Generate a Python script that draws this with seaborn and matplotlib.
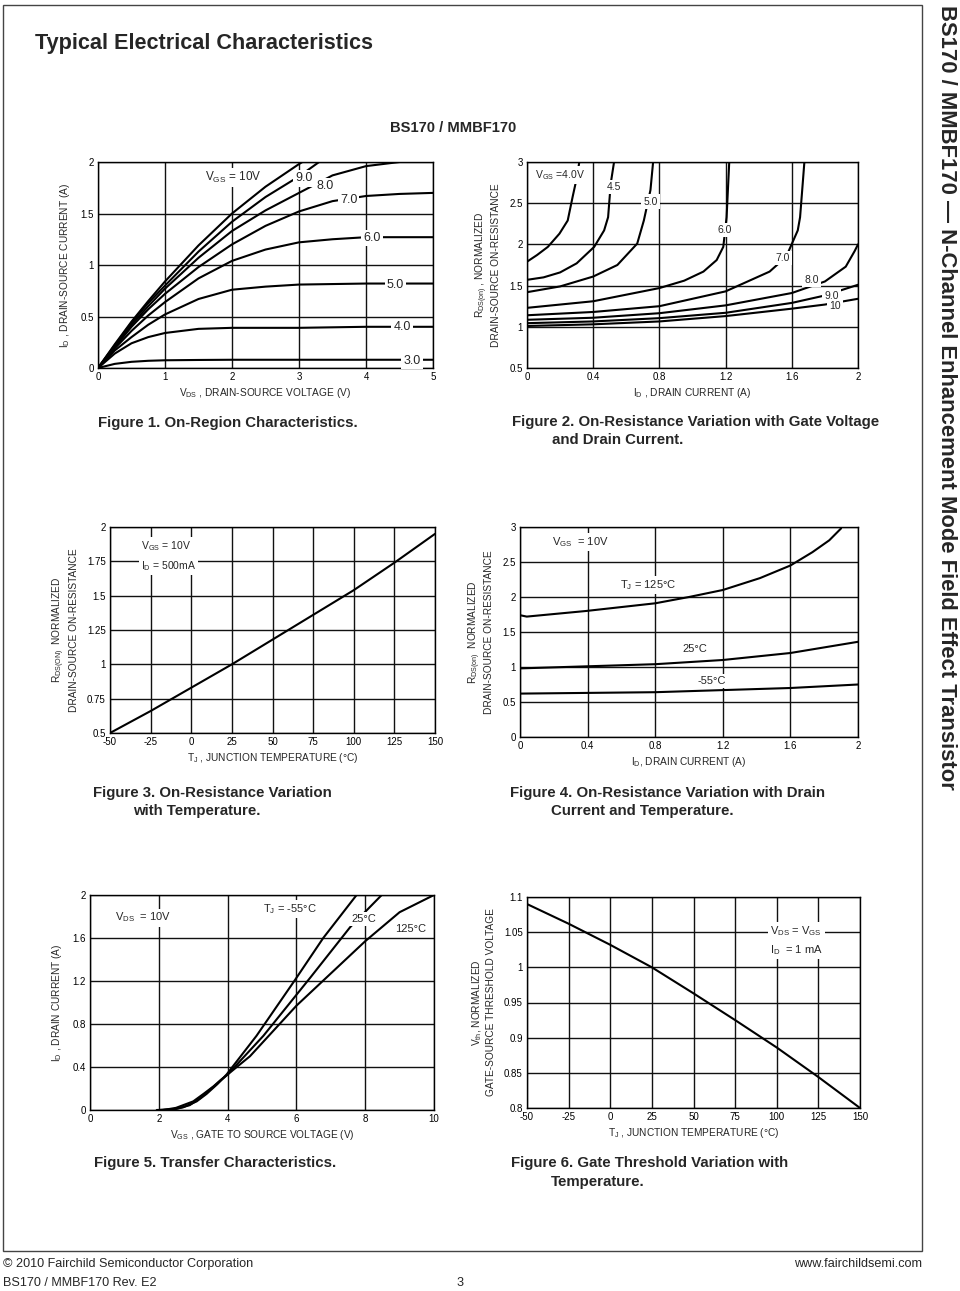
import numpy as np
import pandas as pd
import matplotlib
matplotlib.use("Agg")
import matplotlib.pyplot as plt
import seaborn as sns
from matplotlib.ticker import MultipleLocator, FuncFormatter
from matplotlib.patches import Rectangle

# -------------------------
# DATA
# -------------------------

# Figure 1: ID vs VDS for several VGS
vds_10 = [0, 0.25, 0.5, 0.75, 1, 1.5, 2, 2.5, 3, 3.05]
id_10 = [0, 0.23, 0.45, 0.65, 0.84, 1.19, 1.50, 1.76, 1.98, 2.0]
vds_9 = [0, 0.25, 0.5, 0.75, 1, 1.5, 2, 2.5, 3, 3.3]
id_9 = [0, 0.22, 0.44, 0.63, 0.80, 1.13, 1.42, 1.66, 1.86, 2.0]
vds_8 = [0, 0.25, 0.5, 0.75, 1, 1.5, 2, 2.5, 3, 3.5, 4, 4.5]
id_8 = [0, 0.21, 0.42, 0.60, 0.77, 1.07, 1.33, 1.53, 1.70, 1.87, 1.96, 2.0]
vds_grid = [0, 0.25, 0.5, 0.75, 1, 1.5, 2, 2.5, 3, 3.5, 4, 4.5, 5]
id_7 = [0, 0.20, 0.40, 0.57, 0.72, 0.98, 1.20, 1.38, 1.52, 1.62, 1.67, 1.69, 1.70]
id_6 = [0, 0.19, 0.36, 0.51, 0.64, 0.87, 1.04, 1.15, 1.22, 1.25, 1.27, 1.27, 1.27]
id_5 = [0, 0.17, 0.30, 0.42, 0.52, 0.67, 0.76, 0.79, 0.81, 0.815, 0.82, 0.82, 0.82]
id_4 = [0, 0.14, 0.24, 0.30, 0.34, 0.38, 0.39, 0.39, 0.39, 0.395, 0.40, 0.40, 0.40]
id_3 = [0, 0.04, 0.06, 0.07, 0.075, 0.078, 0.08, 0.08, 0.08, 0.08, 0.08, 0.08, 0.08]

# Figure 2: normalized RDS(on) vs ID for several VGS
f2_id_40 = [0, 0.06, 0.126, 0.196, 0.246, 0.276, 0.30, 0.316]
f2_r_40 = [1.79, 1.87, 1.97, 2.13, 2.29, 2.58, 2.80, 3.0]
f2_id_45 = [0, 0.1, 0.2, 0.3, 0.406, 0.466, 0.49, 0.506, 0.526]
f2_r_45 = [1.57, 1.60, 1.66, 1.77, 1.97, 2.17, 2.33, 2.74, 3.0]
f2_id_50 = [0, 0.2, 0.4, 0.546, 0.666, 0.706, 0.746, 0.762]
f2_r_50 = [1.42, 1.49, 1.61, 1.75, 2.01, 2.29, 2.66, 3.0]
f2_id_60 = [0, 0.4, 0.8, 0.95, 1.066, 1.146, 1.186, 1.206, 1.222]
f2_r_60 = [1.23, 1.31, 1.47, 1.56, 1.67, 1.81, 1.97, 2.33, 3.0]
f2_id_70 = [0, 0.4, 0.8, 1.2, 1.466, 1.566, 1.636, 1.65, 1.666, 1.676]
f2_r_70 = [1.14, 1.18, 1.25, 1.43, 1.67, 1.85, 2.17, 2.33, 2.74, 3.0]
f2_id_80 = [0, 0.4, 0.8, 1.2, 1.6, 1.8, 1.926, 1.98, 2.0]
f2_r_80 = [1.085, 1.11, 1.165, 1.26, 1.41, 1.55, 1.73, 1.92, 2.0]
f2_id_90 = [0, 0.4, 0.8, 1.2, 1.6, 1.8, 2.0]
f2_r_90 = [1.044, 1.065, 1.105, 1.17, 1.29, 1.38, 1.51]
f2_id_10 = [0, 0.4, 0.8, 1.2, 1.6, 1.8, 2.0]
f2_r_10 = [1.01, 1.03, 1.065, 1.13, 1.22, 1.27, 1.34]

# Figure 3: RDS(on) vs junction temperature
f3_tj = [-50, -25, 0, 25, 50, 75, 100, 125, 150]
f3_r = [0.5, 0.66, 0.83, 1.0, 1.18, 1.36, 1.54, 1.74, 1.95]

# Figure 4: RDS(on) vs ID for three temperatures
f4_id_125 = [0, 0.04, 0.39, 0.8, 1.0, 1.2, 1.42, 1.6, 1.73, 1.83, 1.9]
f4_r_125 = [1.74, 1.72, 1.80, 1.91, 2.0, 2.1, 2.27, 2.45, 2.64, 2.81, 2.98]
f4_id = [0, 0.4, 0.8, 1.2, 1.6, 2.0]
f4_r_25 = [0.98, 1.01, 1.04, 1.10, 1.20, 1.36]
f4_r_m55 = [0.62, 0.63, 0.64, 0.67, 0.70, 0.75]

# Figure 5: transfer characteristics
f5_vgs_m55 = [1.94, 2.4, 2.71, 3.1, 3.39, 3.7, 3.97, 4.84, 5.96, 6.78, 7.75]
f5_id_m55 = [0, 0.005, 0.025, 0.08, 0.15, 0.24, 0.33, 0.69, 1.21, 1.60, 2.0]
f5_vgs_25 = [2.03, 2.5, 2.9, 3.2, 3.49, 3.75, 4.0, 5.04, 6.4, 7.56, 8.48]
f5_id_25 = [0, 0.01, 0.045, 0.11, 0.19, 0.26, 0.33, 0.69, 1.23, 1.70, 2.0]
f5_vgs_125 = [2.13, 2.5, 3.0, 3.3, 3.59, 3.8, 4.0, 4.65, 6.0, 8.0, 9.0, 10.0]
f5_id_125 = [0, 0.02, 0.08, 0.15, 0.22, 0.28, 0.33, 0.50, 0.97, 1.57, 1.84, 2.0]

# Figure 6: threshold voltage vs temperature
f6_tj = [-50, -25, 0, 25, 50, 75, 100, 125, 150]
f6_vth = [1.09, 1.062, 1.032, 1.0, 0.963, 0.925, 0.886, 0.844, 0.80]

# -------------------------
# STYLE
# -------------------------
sns.set_style("white")
plt.rcParams['font.family'] = ['Liberation Sans', 'DejaVu Sans']
plt.rcParams['mathtext.fontset'] = 'custom'
plt.rcParams['mathtext.rm'] = 'Liberation Sans'
plt.rcParams['mathtext.it'] = 'Liberation Sans:italic'
plt.rcParams['mathtext.bf'] = 'Liberation Sans:bold'
plt.rcParams['mathtext.default'] = 'regular'

W, H = 960, 1291
fig = plt.figure(figsize=(W / 100, H / 100), dpi=100)
fig.patch.set_facecolor('white')

BOX = dict(facecolor='white', edgecolor='none', pad=1.5)
LW = 1.5


def px_axes(l, t, r, b):
    return fig.add_axes([l / W, 1 - b / H, (r - l) / W, (b - t) / H])


def ftext(x, y, s, **kw):
    fig.text(x / W, 1 - y / H, s, **kw)


def style(ax, xlim, ylim, xmaj, xmin, ymaj, ymin):
    ax.set_xlim(*xlim)
    ax.set_ylim(*ylim)
    ax.xaxis.set_major_locator(MultipleLocator(xmaj))
    ax.xaxis.set_minor_locator(MultipleLocator(xmin))
    ax.yaxis.set_major_locator(MultipleLocator(ymaj))
    ax.yaxis.set_minor_locator(MultipleLocator(ymin))
    fmt = FuncFormatter(lambda v, p: '%g' % round(v, 4))
    ax.xaxis.set_major_formatter(fmt)
    ax.yaxis.set_major_formatter(fmt)
    ax.grid(True, which='major', color='#111111', lw=1.0)
    ax.tick_params(which='both', direction='in', top=False, right=False,
                   labelsize=7, pad=3, colors='black')
    ax.tick_params(which='major', length=0)
    ax.tick_params(which='minor', length=3, width=0.8)
    for sp in ax.spines.values():
        sp.set_color('black')
        sp.set_linewidth(1.0)
    ax.xaxis.label.set_size(7.3)
    ax.yaxis.label.set_size(7.3)


def curve(ax, x, y):
    sns.lineplot(x=x, y=y, ax=ax, color='black', lw=LW, sort=False,
                 estimator=None)


# -------------------------
# FIGURE 1
# -------------------------
ax1 = px_axes(98, 162, 433, 368)
for x, y in [(vds_10, id_10), (vds_9, id_9), (vds_8, id_8), (vds_grid, id_7),
             (vds_grid, id_6), (vds_grid, id_5), (vds_grid, id_4), (vds_grid, id_3)]:
    curve(ax1, x, y)
style(ax1, (0, 5), (0, 2), 1, 0.5, 0.5, 0.25)
ax1.set_xlabel("V$_{DS}$ , DRAIN-SOURCE VOLTAGE (V)", labelpad=3)
ax1.set_ylabel("I$_D$ , DRAIN-SOURCE CURRENT (A)", labelpad=6)
ax1.text(1.59, 1.85, "V$_{GS}$ = 10V", fontsize=8.5, va='center', bbox=BOX)
for x, y, s in [(3.07, 1.84, "9.0"), (3.39, 1.77, "8.0"), (3.74, 1.63, "7.0"),
                (4.09, 1.26, "6.0"), (4.44, 0.81, "5.0"), (4.54, 0.40, "4.0"),
                (4.69, 0.07, "3.0")]:
    ax1.text(x, y, s, fontsize=9, ha='center', va='center', bbox=BOX)

# -------------------------
# FIGURE 2
# -------------------------
ax2 = px_axes(527, 162, 858, 368)
for x, y in [(f2_id_40, f2_r_40), (f2_id_45, f2_r_45), (f2_id_50, f2_r_50),
             (f2_id_60, f2_r_60), (f2_id_70, f2_r_70), (f2_id_80, f2_r_80),
             (f2_id_90, f2_r_90), (f2_id_10, f2_r_10)]:
    curve(ax2, x, y)
style(ax2, (0, 2), (0.5, 3), 0.4, 0.2, 0.5, 0.25)
ax2.set_xlabel("I$_D$ , DRAIN CURRENT (A)", labelpad=3)
ax2.set_ylabel("R$_{DS(on)}$ , NORMALIZED\nDRAIN-SOURCE ON-RESISTANCE", labelpad=6)
ax2.text(0.05, 2.84, "V$_{GS}$ =4.0V", fontsize=7.5, va='center', bbox=BOX)
for x, y, s in [(0.526, 2.70, "4.5"), (0.746, 2.52, "5.0"), (1.196, 2.17, "6.0"),
                (1.546, 1.83, "7.0"), (1.72, 1.57, "8.0"), (1.84, 1.37, "9.0"),
                (1.86, 1.25, "10")]:
    ax2.text(x, y, s, fontsize=7.5, ha='center', va='center', bbox=BOX)

# -------------------------
# FIGURE 3
# -------------------------
ax3 = px_axes(110, 527, 435, 733)
curve(ax3, f3_tj, f3_r)
style(ax3, (-50, 150), (0.5, 2), 25, 5, 0.25, 0.125)
ax3.set_xlabel("T$_J$ , JUNCTION TEMPERATURE (°C)", labelpad=3)
ax3.set_ylabel("R$_{DS(ON)}$  NORMALIZED\nDRAIN-SOURCE ON-RESISTANCE", labelpad=6)
ax3.text(-31, 1.79, "V$_{GS}$ = 10V\nI$_D$ = 500mA", fontsize=7.5, va='center',
         linespacing=1.6, bbox=BOX)

# -------------------------
# FIGURE 4
# -------------------------
ax4 = px_axes(520, 527, 858, 737)
curve(ax4, f4_id_125, f4_r_125)
curve(ax4, f4_id, f4_r_25)
curve(ax4, f4_id, f4_r_m55)
style(ax4, (0, 2), (0, 3), 0.4, 0.2, 0.5, 0.25)
ax4.set_xlabel("I$_D$, DRAIN CURRENT (A)", labelpad=3)
ax4.set_ylabel("R$_{DS(on)}$  NORMALIZED\nDRAIN-SOURCE ON-RESISTANCE", labelpad=6)
ax4.text(0.19, 2.78, "V$_{GS}$  = 10V", fontsize=8, va='center', bbox=BOX)
ax4.text(0.59, 2.17, "T$_J$ = 125°C", fontsize=8, va='center', bbox=BOX)
ax4.text(0.96, 1.25, "25°C", fontsize=8, va='center', bbox=BOX)
ax4.text(1.05, 0.80, "-55°C", fontsize=8, va='center', bbox=BOX)

# -------------------------
# FIGURE 5
# -------------------------
ax5 = px_axes(90, 895, 434, 1110)
curve(ax5, f5_vgs_m55, f5_id_m55)
curve(ax5, f5_vgs_25, f5_id_25)
curve(ax5, f5_vgs_125, f5_id_125)
style(ax5, (0, 10), (0, 2), 2, 1, 0.4, 0.2)
ax5.set_xlabel("V$_{GS}$ , GATE TO SOURCE VOLTAGE (V)", labelpad=3)
ax5.set_ylabel("I$_D$ , DRAIN CURRENT (A)", labelpad=6)
ax5.text(0.73, 1.79, "V$_{DS}$  = 10V", fontsize=8, va='center', bbox=BOX)
ax5.text(5.04, 1.87, "T$_J$ = -55°C", fontsize=8, va='center', bbox=BOX)
ax5.text(7.6, 1.78, "25°C", fontsize=8, va='center', bbox=BOX)
ax5.text(8.87, 1.68, "125°C", fontsize=8, va='center', bbox=BOX)

# -------------------------
# FIGURE 6
# -------------------------
ax6 = px_axes(527, 897, 860, 1108)
curve(ax6, f6_tj, f6_vth)
style(ax6, (-50, 150), (0.8, 1.1), 25, 5, 0.05, 0.01)
ax6.set_xlabel("T$_J$ , JUNCTION TEMPERATURE (°C)", labelpad=3)
ax6.set_ylabel("V$_{th}$, NORMALIZED\nGATE-SOURCE THRESHOLD VOLTAGE", labelpad=6)
ax6.text(96, 1.038, "V$_{DS}$ = V$_{GS}$\nI$_D$  = 1 mA", fontsize=8, va='center',
         linespacing=1.5, bbox=BOX)

# -------------------------
# PAGE TEXT
# -------------------------
cap = dict(fontsize=10.8, fontweight='bold', va='center', ha='left')
ftext(98, 423, "Figure 1. On-Region Characteristics.", **cap)
ftext(512, 422, "Figure 2. On-Resistance Variation with Gate Voltage", **cap)
ftext(552, 440, "and Drain Current.", **cap)
ftext(93, 793, "Figure 3. On-Resistance Variation", **cap)
ftext(133, 811, "with Temperature.", **cap)
ftext(510, 793, "Figure 4. On-Resistance Variation with Drain", **cap)
ftext(551, 811, "Current and Temperature.", **cap)
ftext(94, 1163, "Figure 5. Transfer Characteristics.", **cap)
ftext(511, 1163, "Figure 6. Gate Threshold Variation with", **cap)
ftext(551, 1182, "Temperature.", **cap)

ftext(35, 44, "Typical Electrical Characteristics", fontsize=15.6, fontweight='bold',
      va='center', ha='left')
ftext(453, 128, "BS170 / MMBF170", fontsize=10.6, fontweight='bold', va='center',
      ha='center')
ftext(946, 5, "BS170 / MMBF170 \u2014 N-Channel Enhancement Mode Field Effect Transistor",
      fontsize=15.8, fontweight='bold', rotation=270, ha='center', va='top')

foot = dict(fontsize=9.1, va='center')
ftext(3, 1264, "\u00a9 2010 Fairchild Semiconductor Corporation", ha='left', **foot)
ftext(922, 1264, "www.fairchildsemi.com", ha='right', **foot)
ftext(3, 1283, "BS170 / MMBF170 Rev. E2", ha='left', **foot)
ftext(460, 1283, "3", ha='center', **foot)

fig.patches.append(Rectangle((3 / W, 1 - 1251 / H), 919 / W, 1246 / H,
                             transform=fig.transFigure, fill=False,
                             edgecolor='#444444', lw=1.0))

fig.savefig("out.png", dpi=100)
